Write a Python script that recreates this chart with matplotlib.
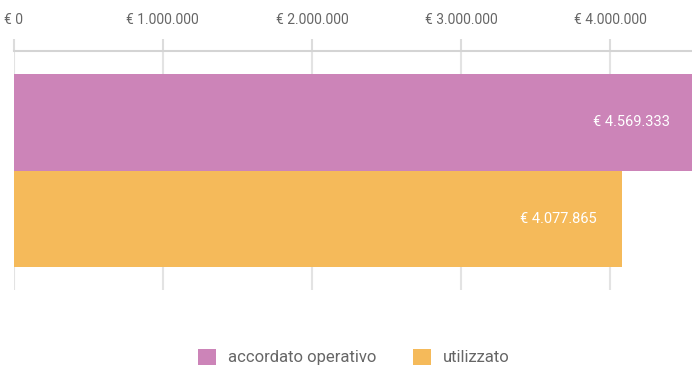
import matplotlib

matplotlib.use("Agg")
import matplotlib.pyplot as plt
from matplotlib.patches import Patch
from matplotlib.ticker import FuncFormatter

plt.rcParams["font.family"] = ["Roboto", "DejaVu Sans"]

SERIES = ["accordato operativo", "utilizzato"]
VALUES = [4569333, 4077865]
COLORS = ["#cc84b8", "#f5ba5a"]
X_TICKS = [0, 1_000_000, 2_000_000, 3_000_000, 4_000_000]


def euro(v, _pos=None):
    return "€ " + f"{int(round(v)):,}".replace(",", ".")


fig = plt.figure(figsize=(6.92, 3.69), dpi=100)
ax = fig.add_axes([13.5 / 692, 1 - 290 / 369, 1 - 13.5 / 692, (290 - 51) / 369])

ypos = [0.5, -0.5]
for y, v, c in zip(ypos, VALUES, COLORS):
    ax.barh(y, v, height=1.0, color=c, zorder=2)
    ax.annotate(euro(v), xy=(v, y), xytext=(-18, 0), textcoords="offset points",
                ha="right", va="center", color="white", fontsize=10.5, zorder=3,
                annotation_clip=False)

ax.set_xlim(0, (692 - 13.5) / 149.2 * 1e6)
ax.set_ylim(-1.24, 1.24)
ax.set_xticks(X_TICKS)
ax.xaxis.set_major_formatter(FuncFormatter(euro))
ax.xaxis.tick_top()
ax.tick_params(axis="x", length=8.6, width=1.5, color="#dcdcdc", pad=9,
               labelsize=10, labelcolor="#666666")
ax.set_yticks([])
ax.grid(True, axis="x", color="#e3e3e3", lw=1.5, zorder=0)
for side in ("left", "right", "bottom"):
    ax.spines[side].set_visible(False)
ax.spines["top"].set_color("#d4d4d4")
ax.spines["top"].set_linewidth(1.5)

handles = [Patch(facecolor=c, edgecolor="none") for c in COLORS]
fig.legend(handles, SERIES, loc="center", bbox_to_anchor=(0.511, 1 - 357 / 369),
           ncol=2, frameon=False, fontsize=12, labelcolor="#666666",
           handlelength=1.1, handleheight=1.1, handletextpad=0.7, columnspacing=2.2)

fig.savefig("out.png", dpi=100)
